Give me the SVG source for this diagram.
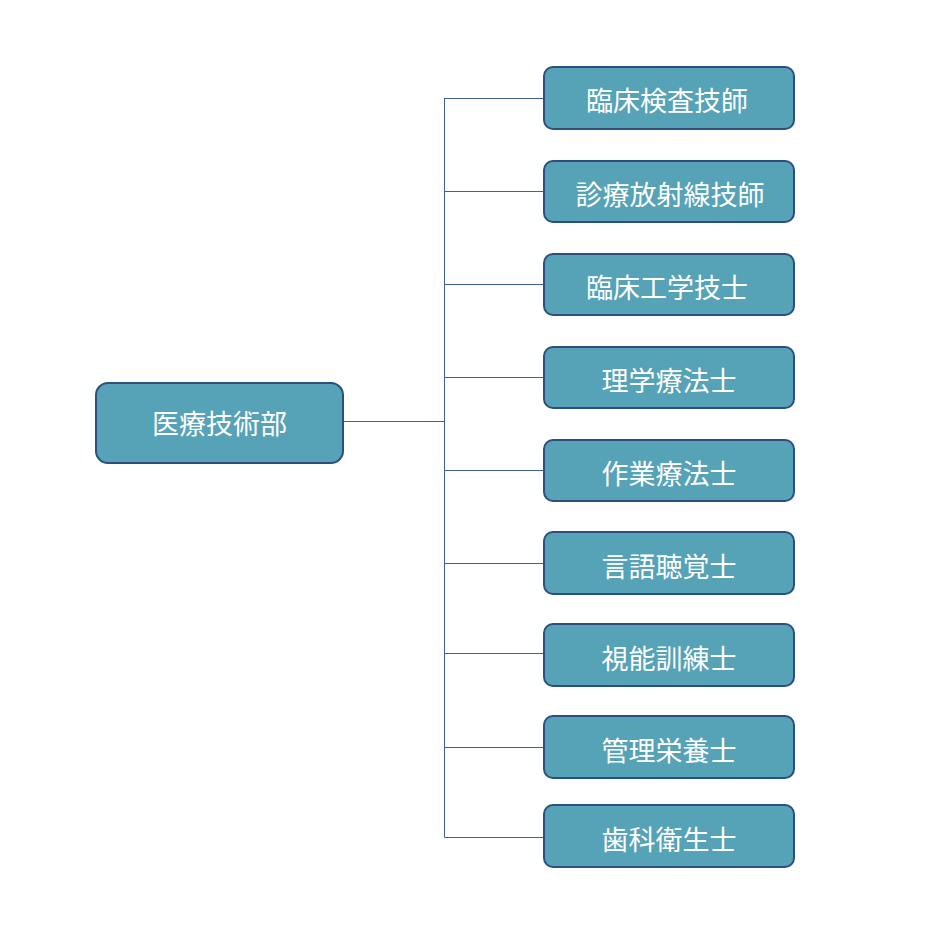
<svg xmlns="http://www.w3.org/2000/svg" width="938" height="929" viewBox="0 0 938 929">
<style>
.box{fill:#56a2b6;stroke:#2c4f80;stroke-width:2}
.t{fill:#ffffff;font-family:"Noto Sans CJK JP","Noto Sans CJK SC",sans-serif;font-size:27px;text-anchor:middle}
.ln{stroke:#3d5f95;stroke-width:1;fill:none}
</style>
<rect width="938" height="929" fill="#ffffff"/>
<g id="connectors">
<path class="ln" d="M343,421.5H444.5M444.5,98V837.5M444.5,98.5H544M444.5,191.5H544M444.5,284.5H544M444.5,377.5H544M444.5,470.5H544M444.5,563.5H544M444.5,653.5H544M444.5,747.5H544M444.5,837.5H544"/>
</g>
<g id="root"><rect class="box" x="96" y="383" width="247" height="80" rx="12"/><text class="t" x="219.5" y="434">医療技術部</text></g>
<g id="n1"><rect class="box" x="544" y="67" width="250" height="62" rx="9"/><text class="t" x="667" y="111">臨床検査技師</text></g>
<g id="n2"><rect class="box" x="544" y="161" width="250" height="61" rx="9"/><text class="t" x="670" y="205">診療放射線技師</text></g>
<g id="n3"><rect class="box" x="544" y="254" width="250" height="61" rx="9"/><text class="t" x="667" y="298">臨床工学技士</text></g>
<g id="n4"><rect class="box" x="544" y="347" width="250" height="61" rx="9"/><text class="t" x="669" y="391">理学療法士</text></g>
<g id="n5"><rect class="box" x="544" y="440" width="250" height="61" rx="9"/><text class="t" x="669" y="484">作業療法士</text></g>
<g id="n6"><rect class="box" x="544" y="532" width="250" height="62" rx="9"/><text class="t" x="669" y="577">言語聴覚士</text></g>
<g id="n7"><rect class="box" x="544" y="624" width="250" height="62" rx="9"/><text class="t" x="669" y="669">視能訓練士</text></g>
<g id="n8"><rect class="box" x="544" y="716" width="250" height="62" rx="9"/><text class="t" x="669" y="761">管理栄養士</text></g>
<g id="n9"><rect class="box" x="544" y="805" width="250" height="62" rx="9"/><text class="t" x="669" y="850">歯科衛生士</text></g>
</svg>
